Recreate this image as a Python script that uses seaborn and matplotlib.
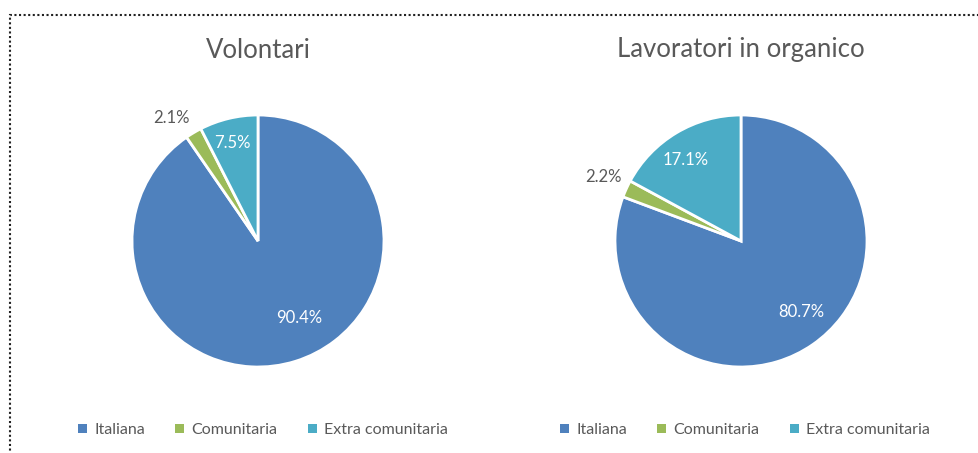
import matplotlib
matplotlib.use("Agg")
import matplotlib.pyplot as plt
import matplotlib.patches as mpatches
import seaborn as sns

# ---- data ----
categories = ["Italiana", "Comunitaria", "Extra comunitaria"]
titles = ["Volontari", "Lavoratori in organico"]
volontari = [90.4, 2.1, 7.5]
lavoratori = [80.7, 2.2, 17.1]
series = [volontari, lavoratori]

# ---- style ----
sns.set_theme(style="white")
plt.rcParams["font.family"] = ["Lato", "DejaVu Sans"]
colors = ["#4F81BD", "#9BBB59", "#4BACC6"]
text_grey = "#595959"

W, H = 979, 453
fig = plt.figure(figsize=(W / 100, H / 100), dpi=100)
fig.patch.set_facecolor("white")

# layout (pixels): pie centre x, centre y, radius
pie_layout = [(258, 241, 126), (741, 241, 126)]
# label positions in pie units (radius = 1), and whether inside (white)
label_layout = [
    [(0.33, -0.61, True), (-0.69, 0.98, False), (-0.20, 0.78, True)],
    [(0.48, -0.56, True), (-1.09, 0.51, False), (-0.44, 0.64, True)],
]
legend_centres = [263, 745]

for i, (vals, title) in enumerate(zip(series, titles)):
    cx, cy, r = pie_layout[i]
    ax = fig.add_axes([(cx - r) / W, (H - cy - r) / H, 2 * r / W, 2 * r / H])
    wedges, _ = ax.pie(vals, colors=colors, startangle=90, counterclock=False,
                       radius=1, wedgeprops=dict(edgecolor="white", linewidth=2))
    ax.set_xlim(-1, 1)
    ax.set_ylim(-1, 1)
    ax.set_aspect("equal")
    ax.axis("off")
    for v, (lx, ly, inside) in zip(vals, label_layout[i]):
        ax.text(lx, ly, f"{v:.1f}%", ha="center", va="center", fontsize=12,
                color="white" if inside else text_grey, clip_on=False)
    fig.text(cx / W, 1 - 50 / H, title, ha="center", va="center",
             fontsize=18.5, color=text_grey)
    handles = [mpatches.Patch(facecolor=c, edgecolor="none", label=l)
               for c, l in zip(colors, categories)]
    leg = fig.legend(handles=handles, loc="center", ncol=3, frameon=False,
                     bbox_to_anchor=(legend_centres[i] / W, 1 - 430 / H),
                     fontsize=11.5, handlelength=0.55, handleheight=0.55,
                     handletextpad=0.45, columnspacing=1.9)
    for t in leg.get_texts():
        t.set_color(text_grey)

# dotted border (open to right and bottom)
border = mpatches.Rectangle((9.5 / W, -0.1), 1.2, 1 - 15 / H + 0.1,
                            transform=fig.transFigure, fill=False,
                            edgecolor="#222222", linewidth=1.5,
                            linestyle=(0, (1, 1.2)), clip_on=False)
fig.patches.append(border)

fig.savefig("out.png", dpi=100, facecolor="white")
